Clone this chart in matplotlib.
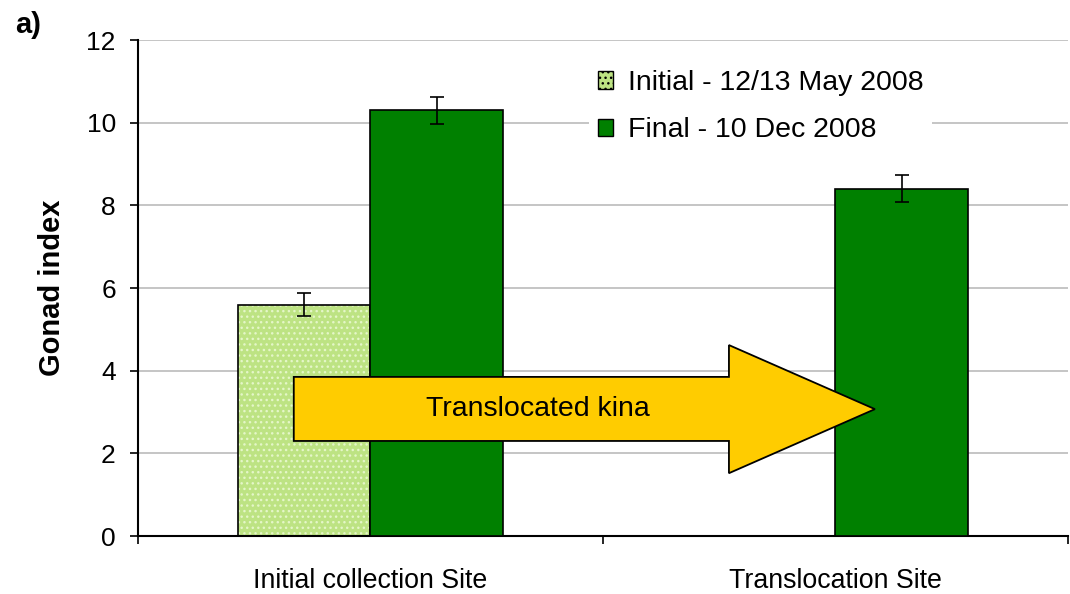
import numpy as np
import matplotlib.pyplot as plt
from matplotlib.patches import Polygon, Patch

plt.rcParams['font.family'] = ['Liberation Sans', 'DejaVu Sans']
plt.rcParams['hatch.linewidth'] = 1.0

sites = ['Initial collection Site', 'Translocation Site']
initial = [5.6, np.nan]
initial_err = [0.28, np.nan]
final = [10.3, 8.4]
final_err = [0.33, 0.33]
series_labels = ['Initial - 12/13 May 2008', 'Final - 10 Dec 2008']

light_green = '#bde383'
dot_color = '#e4f6c8'
dark_green = '#008000'
arrow_yellow = '#ffcc00'

fig = plt.figure(figsize=(10.7, 5.94), dpi=100)
ax = fig.add_axes([0.129, 0.0976, 0.869, 0.835])

x = np.arange(len(sites))
w = 0.285

# initial bars: light green fill with a fine dot pattern, black outline on top
ax.bar(x - w / 2, initial, w, color=light_green, hatch='...',
       edgecolor=dot_color, linewidth=0, zorder=2)
ax.bar(x - w / 2, initial, w, fill=False, edgecolor='black', linewidth=1.2, zorder=3)
ax.errorbar(x - w / 2, initial, yerr=initial_err, fmt='none', ecolor='black',
            elinewidth=1.2, capsize=5, capthick=1.2, zorder=4)

ax.bar(x + w / 2, final, w, color=dark_green, edgecolor='black', linewidth=1.2, zorder=3)
ax.errorbar(x + w / 2, final, yerr=final_err, fmt='none', ecolor='black',
            elinewidth=1.2, capsize=5, capthick=1.2, zorder=4)

ax.set_xlim(-0.5, 1.5)
ax.set_ylim(0, 12)
ax.set_yticks(range(0, 13, 2))
ax.yaxis.grid(True, color='#c0c0c0', linewidth=1.3, zorder=0)
ax.set_axisbelow(True)

ax.set_xticks([-0.5, 0.5, 1.5])
ax.set_xticklabels([])
ax.set_xticks(x, minor=True)
ax.set_xticklabels(sites, minor=True)
ax.tick_params(axis='x', which='minor', length=0, pad=23, labelsize=19.3)
ax.tick_params(axis='x', which='major', length=6, width=1.2, direction='out')
ax.tick_params(axis='y', length=6, width=1.2, labelsize=19, pad=10)

for side in ['top', 'right']:
    ax.spines[side].set_visible(False)
for side in ['left', 'bottom']:
    ax.spines[side].set_linewidth(1.5)

ax.set_ylabel('Gonad index', fontsize=21, fontweight='bold')
ax.yaxis.set_label_coords(-0.078, 0.5)

# block arrow from the collection site to the translocation site
arrow_pts = [(-0.165, 2.30), (0.771, 2.30), (0.771, 1.52), (1.085, 3.07),
             (0.771, 4.62), (0.771, 3.85), (-0.165, 3.85)]
ax.add_patch(Polygon(arrow_pts, closed=True, facecolor=arrow_yellow,
                     edgecolor='black', linewidth=1.3, zorder=5))
ax.text(0.36, 3.07, 'Translocated kina', ha='center', va='center', fontsize=20.5, zorder=6)

handles = [Patch(facecolor=light_green, edgecolor='black', hatch='...'),
           Patch(facecolor=dark_green, edgecolor='black')]
leg = ax.legend(handles, series_labels, loc='upper left', bbox_to_anchor=(0.485, 0.957),
                fontsize=20.5, frameon=True, framealpha=1, edgecolor='white',
                handlelength=0.56, handleheight=0.56, handletextpad=0.5,
                labelspacing=0.75, borderpad=0.3, borderaxespad=0, fancybox=False)
leg.get_frame().set_linewidth(0)

fig.text(0.014, 0.945, 'a)', fontsize=21, fontweight='bold')

fig.savefig('out.png', dpi=100)
